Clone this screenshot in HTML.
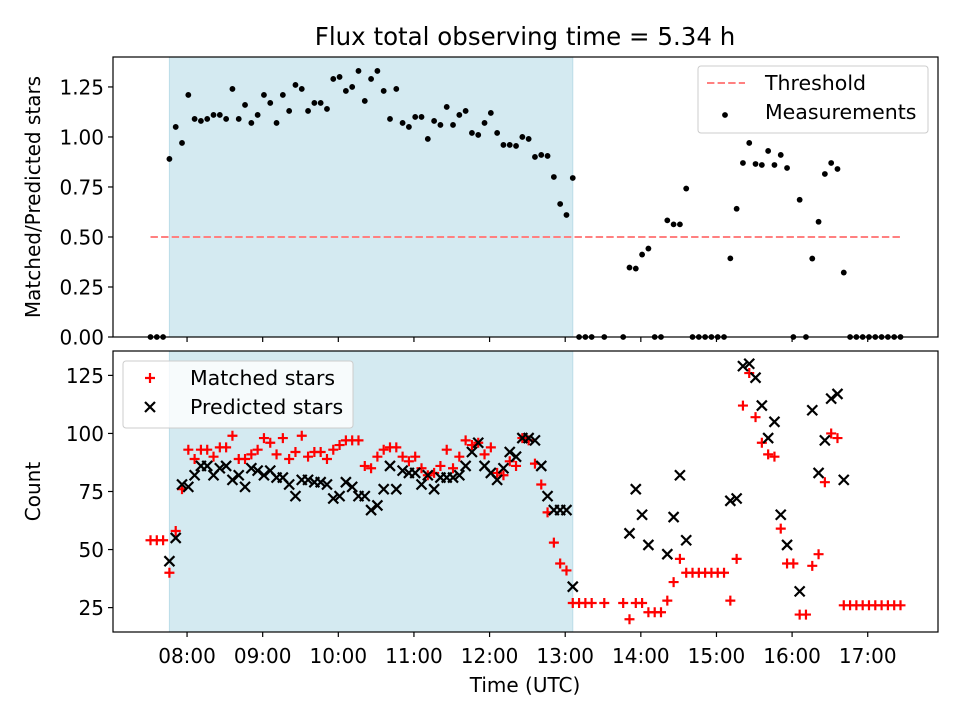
<!DOCTYPE html>
<html><head><meta charset="utf-8"><style>
body{margin:0;background:#fff;}
svg text{font-family:"DejaVu Sans","Liberation Sans",sans-serif;fill:#000;}
</style></head><body>
<svg id="chart" width="960" height="720" xmlns="http://www.w3.org/2000/svg">
<rect width="960" height="720" fill="#fff"/>
<text x="525" y="45" font-size="24.5" text-anchor="middle">Flux total observing time = 5.34 h</text>
<g id="top"></g>
<g id="bot"></g>
</svg>
<script>
// index of 5-minute slot (slot 0 = 07:31)
const slots = [0,1,2,3,4,5,6,7,8,9,10,11,12,13,14,15,16,17,18,19,20,21,22,23,24,25,26,27,28,29,30,31,32,33,34,35,36,37,38,39,40,41,42,43,44,45,46,47,48,49,50,51,52,53,54,55,56,57,58,59,60,61,62,63,64,65,66,67,68,69,70,72,75,76,77,78,79,80,81,82,83,84,85,86,87,88,89,90,91,92,93,94,95,96,97,98,99,100,101,102,103,104,105,106,107,108,109,110,111,112,113,114,115,116,117,118,119];
const ratio = [0,0,0,.89,1.05,.97,1.21,1.09,1.08,1.09,1.11,1.11,1.09,1.24,1.09,1.16,1.07,1.11,1.21,1.17,1.07,1.21,1.13,1.26,1.24,1.13,1.17,1.17,1.14,1.29,1.30,1.23,1.25,1.33,1.18,1.29,1.33,1.23,1.09,1.24,1.07,1.05,1.10,1.10,.99,1.08,1.06,1.15,1.06,1.11,1.13,1.02,1.01,1.07,1.12,1.02,.96,.96,.955,1.0,.99,.90,.91,.905,.80,.665,.61,.795,0,0,0,0,0,.347,.342,.412,.442,0,0,.583,.563,.563,.742,0,0,0,0,0,0,.393,.641,.87,.97,.865,.86,.93,.86,.91,.845,0,.686,0,.392,.576,.815,.87,.84,.322,0,0,0,0,0,0,0,0,0];
const matched = [54,54,54,40,58,76,93,89,93,93,90,94,94,99,89,89,91,93,98,96,91,98,89,92,99,90,92,92,89,93,95,97,97,97,86,85,90,93,94,94,90,88,90,85,82,83,86,93,85,90,97,95,96,91,94,83,82,88,86,98,97,87,78,66,53,44,41,27,27,27,27,27,27,20,27,27,23,23,23,28,36,46,40,40,40,40,40,40,40,28,46,112,126,107,96,91,90,59,44,44,22,22,43,48,79,100,98,26,26,26,26,26,26,26,26,26,26];
const predicted = [null,null,null,45,55,78,77,82,86,86,82,85,86,80,82,77,85,84,82,84,81,81,78,73,80,80,79,79,78,72,73,79,77,73,73,67,69,76,86,76,84,83,83,78,82,76,81,81,81,82,86,92,96,86,83,80,85,92,90,98,98,97,86,73,67,67,67,34,null,null,null,null,null,57,76,65,52,null,null,48,64,82,54,null,null,null,null,null,null,71,72,129,130,124,112,98,105,65,52,null,32,null,110,83,97,115,117,80,null,null,null,null,null,null,null,null,null];
const xTickLabels = ["08:00","09:00","10:00","11:00","12:00","13:00","14:00","15:00","16:00","17:00"];
const topTicks = [0,0.25,0.5,0.75,1.0,1.25];
const botTicks = [25,50,75,100,125];
const threshold = 0.5;
const shadeStartSlot = 3, shadeEndSlot = 67;

const NS="http://www.w3.org/2000/svg";
const X0=113,X1=938;
const tMin=421.25,tMax=1075.75;
const FS=20;
const M=5;
function slotMin(s){return 451+5*s;}
function xs(m){return X0+(m-tMin)/(tMax-tMin)*(X1-X0);}
const T={y0:337,y1:57,v0:0,v1:1.3997};
const B={y0:632,y1:351,v0:14.5,v1:135.5};
function ys(p,v){return p.y0+(v-p.v0)/(p.v1-p.v0)*(p.y1-p.y0);}
function mk(tag,at,parent){const e=document.createElementNS(NS,tag);for(const k in at)e.setAttribute(k,at[k]);parent.appendChild(e);return e;}

function panel(g,p,ticks,fmt,showX,label){
  const s=mk('rect',{x:xs(slotMin(shadeStartSlot)),y:p.y1,width:xs(slotMin(shadeEndSlot))-xs(slotMin(shadeStartSlot)),height:p.y0-p.y1,fill:'#d4eaf1',stroke:'#bcdde8'},g);
  
  
  ticks.forEach(v=>{
    const y=ys(p,v);
    mk('line',{x1:X0-5,x2:X0,y1:y,y2:y,stroke:'#000','stroke-width':1.2},g);
    const t=mk('text',{x:X0-9,y:y+7.5,'font-size':FS,'text-anchor':'end'},g);
    t.textContent=fmt(v);
    
    
  });
  xTickLabels.forEach(l=>{
    const [h,m]=l.split(':').map(Number);const x=xs(h*60+m);
    mk('line',{x1:x,x2:x,y1:p.y0,y2:p.y0+5,stroke:'#000','stroke-width':1.2},g);
    if(showX){const t=mk('text',{x:x,y:p.y0+31,'font-size':FS,'text-anchor':'middle'},g);t.textContent=l;
      
      }
  });
  const yl=mk('text',{x:0,y:0,'font-size':FS,'text-anchor':'middle',transform:`translate(${label[1]},${(p.y0+p.y1)/2}) rotate(-90)`},g);
  yl.textContent=label[0];
  
  
}
function frame(g,p){const f=mk('rect',{x:X0,y:p.y1,width:X1-X0,height:p.y0-p.y1,fill:'none',stroke:'#000','stroke-width':1.2},g);
  
  }

const gt=document.getElementById('top'),gb=document.getElementById('bot');
panel(gt,T,topTicks,v=>v.toFixed(2),false,['Matched/Predicted stars',40]);
const th=mk('line',{x1:xs(slotMin(slots[0])),x2:xs(slotMin(slots[slots.length-1])),y1:ys(T,threshold),y2:ys(T,threshold),stroke:'#ff8080','stroke-width':2,'stroke-dasharray':'7.4,3.2'},gt);


slots.forEach((s,i)=>{
  const c=mk('circle',{cx:xs(slotMin(s)),cy:ys(T,ratio[i]),r:2.9,fill:'#000'},gt);
  
  
});
frame(gt,T);

panel(gb,B,botTicks,v=>String(v),true,['Count',40]);
slots.forEach((s,i)=>{
  const x=xs(slotMin(s)),y=ys(B,matched[i]);
  const p=mk('path',{d:`M${x-M},${y}H${x+M}M${x},${y-M}V${y+M}`,stroke:'#f00','stroke-width':2.2},gb);
  
  
});
slots.forEach((s,i)=>{
  if(predicted[i]===null)return;
  const x=xs(slotMin(s)),y=ys(B,predicted[i]);
  const p=mk('path',{d:`M${x-M},${y-M}L${x+M},${y+M}M${x-M},${y+M}L${x+M},${y-M}`,stroke:'#000','stroke-width':2.2},gb);
  
  
});
frame(gb,B);
const xt=mk('text',{x:525,y:692,'font-size':FS,'text-anchor':'middle'},gb);
xt.textContent='Time (UTC)';



// legends
function legend(x,y,w,h,items,name){
  const g=mk('g',{},document.getElementById('chart'));
  
  
  mk('rect',{x,y,width:w,height:h,rx:3,fill:'rgba(255,255,255,0.8)',stroke:'#ccc'},g);
  items.forEach((it,k)=>{
    const cy=y+17+k*29,cx=x+27;
    if(it.type==='dash')mk('line',{x1:x+9,x2:x+47,y1:cy,y2:cy,stroke:'#ff8080','stroke-width':2,'stroke-dasharray':'7.4,3.2'},g);
    if(it.type==='dot')mk('circle',{cx,cy:cy+3,r:2.9,fill:'#000'},g);
    if(it.type==='plus')mk('path',{d:`M${cx-M},${cy}H${cx+M}M${cx},${cy-M}V${cy+M}`,stroke:'#f00','stroke-width':2.2},g);
    if(it.type==='x')mk('path',{d:`M${cx-M},${cy-M}L${cx+M},${cy+M}M${cx-M},${cy+M}L${cx+M},${cy-M}`,stroke:'#000','stroke-width':2.2},g);
    const t=mk('text',{x:x+67,y:cy+7,'font-size':20.5},g);t.textContent=it.label;
    
    
  });
}
legend(698,66,230,67,[{type:'dash',label:'Threshold'},{type:'dot',label:'Measurements'}],'top-legend');
legend(123,361,230,67,[{type:'plus',label:'Matched stars'},{type:'x',label:'Predicted stars'}],'bottom-legend');
</script>
</body></html>
